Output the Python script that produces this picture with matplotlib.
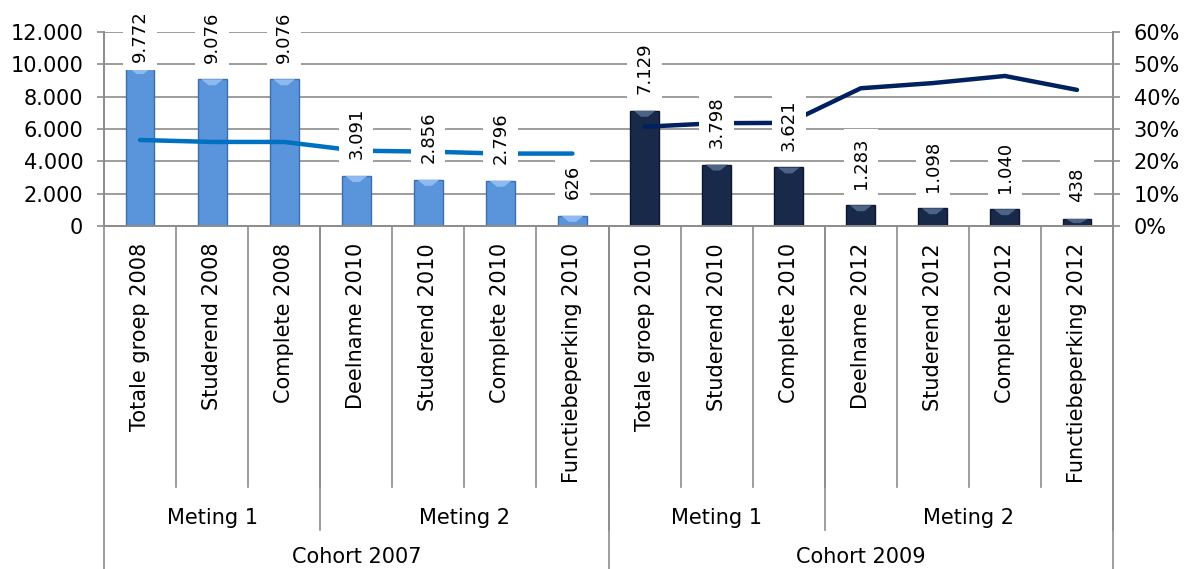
import numpy as np
import matplotlib
matplotlib.use('Agg')
import matplotlib.pyplot as plt
from matplotlib.lines import Line2D
from matplotlib.patches import Polygon
from matplotlib.ticker import FuncFormatter, MultipleLocator
from matplotlib.transforms import blended_transform_factory

categories = ['Totale groep 2008', 'Studerend 2008', 'Complete 2008',
              'Deelname 2010', 'Studerend 2010', 'Complete 2010', 'Functiebeperking 2010',
              'Totale groep 2010', 'Studerend 2010', 'Complete 2010',
              'Deelname 2012', 'Studerend 2012', 'Complete 2012', 'Functiebeperking 2012']
metingen = ['Meting 1', 'Meting 2', 'Meting 1', 'Meting 2']
meting_sizes = [3, 4, 3, 4]
cohorts = ['Cohort 2007', 'Cohort 2009']
cohort_sizes = [7, 7]

counts = [9772, 9076, 9076, 3091, 2856, 2796, 626,
          7129, 3798, 3621, 1283, 1098, 1040, 438]
pct_2007 = [0.266, 0.260, 0.260, 0.233, 0.230, 0.224, 0.224]
pct_2009 = [0.307, 0.318, 0.319, 0.426, 0.442, 0.464, 0.421]

LIGHT_BAR = '#5A94DA'
LIGHT_EDGE = '#3C6FAE'
LIGHT_CAP = '#8DBAF0'
DARK_BAR = '#18294A'
DARK_EDGE = '#0C1830'
DARK_CAP = '#4A6386'
LIGHT_LINE = '#0070C0'
DARK_LINE = '#002060'
GRID = '#8C8C8C'
FS = 15

W, H = 1190, 569
fig = plt.figure(figsize=(W / 100, H / 100), dpi=100)
x0, x1, ytop, ybot = 104, 1113, 32, 226
ax = fig.add_axes([x0 / W, 1 - ybot / H, (x1 - x0) / W, (ybot - ytop) / H])
ax2 = ax.twinx()

x = np.arange(len(categories))
n1 = cohort_sizes[0]
colors = [LIGHT_BAR] * n1 + [DARK_BAR] * cohort_sizes[1]
edges = [LIGHT_EDGE] * n1 + [DARK_EDGE] * cohort_sizes[1]
caps = [LIGHT_CAP] * n1 + [DARK_CAP] * cohort_sizes[1]
bars = ax.bar(x, counts, width=0.4, color=colors, edgecolor=edges, linewidth=1.0, zorder=2)

ax.set_xlim(-0.5, len(categories) - 0.5)
ax.set_ylim(0, 12000)

# soft bevel: lighter notch at the top of every bar
cap_h = 6 * 12000 / (ybot - ytop)
for b, c in zip(bars, caps):
    bx, bw, bh = b.get_x(), b.get_width(), b.get_height()
    h = min(cap_h, bh * 0.6)
    inset = bw * 0.12
    ax.add_patch(Polygon([(bx + inset, bh - 1), (bx + bw - inset, bh - 1),
                          (bx + bw / 2 + inset, bh - h), (bx + bw / 2 - inset, bh - h)],
                         closed=True, facecolor=c, edgecolor='none', zorder=2.5))

ax.yaxis.set_major_locator(MultipleLocator(2000))
ax.yaxis.set_major_formatter(FuncFormatter(lambda v, p: f'{int(v):,}'.replace(',', '.')))
ax.grid(axis='y', color=GRID, linewidth=1.2, zorder=0)
ax.set_axisbelow(True)
ax.set_xticks([])

ax2.plot(x[:n1], pct_2007, color=LIGHT_LINE, linewidth=3.2, solid_capstyle='round', zorder=3)
ax2.plot(x[n1:], pct_2009, color=DARK_LINE, linewidth=3.2, solid_capstyle='round', zorder=3)
ax2.set_ylim(0, 0.6)
ax2.yaxis.set_major_locator(MultipleLocator(0.1))
ax2.yaxis.set_major_formatter(FuncFormatter(lambda v, p: f'{v * 100:.0f}%'))

for a in (ax, ax2):
    for s in a.spines.values():
        s.set_color(GRID)
        s.set_linewidth(1.2)
    a.spines['top'].set_visible(False)
    a.tick_params(axis='y', length=5, width=1.2, color=GRID, labelsize=FS, pad=10)

# data labels, kept inside the figure like Excel does
for xi, v in zip(x, counts):
    ax2.annotate(f'{v:,}'.replace(',', '.'), xy=(xi, min(v, 9100)), xycoords=ax.transData,
                 xytext=(0, 12), textcoords='offset points', rotation=90,
                 ha='center', va='bottom', fontsize=13, zorder=5,
                 bbox=dict(boxstyle='square,pad=0.45', facecolor='white', edgecolor='none'))

# multi-level category axis
tr = blended_transform_factory(ax.transData, fig.transFigure)


def fy(py):
    return 1 - py / H


def vline(xd, y_end):
    fig.add_artist(Line2D([xd, xd], [fy(ybot), fy(y_end)], transform=tr,
                          color=GRID, linewidth=1.2, clip_on=False))


for xi, lab in zip(x, categories):
    fig.text(xi, fy(243), lab, transform=tr, rotation=90, ha='center', va='top', fontsize=FS)
for b in x[:-1] + 0.5:
    vline(b, 487)

start = -0.5
for lab, n in zip(metingen, meting_sizes):
    fig.text(start + n / 2, fy(518), lab, transform=tr, ha='center', va='center', fontsize=FS)
    start += n
    vline(start, 530)

start = -0.5
vline(start, H)
for lab, n in zip(cohorts, cohort_sizes):
    fig.text(start + n / 2, fy(557), lab, transform=tr, ha='center', va='center', fontsize=FS)
    start += n
    vline(start, H)

fig.savefig('out.png', dpi=100)
